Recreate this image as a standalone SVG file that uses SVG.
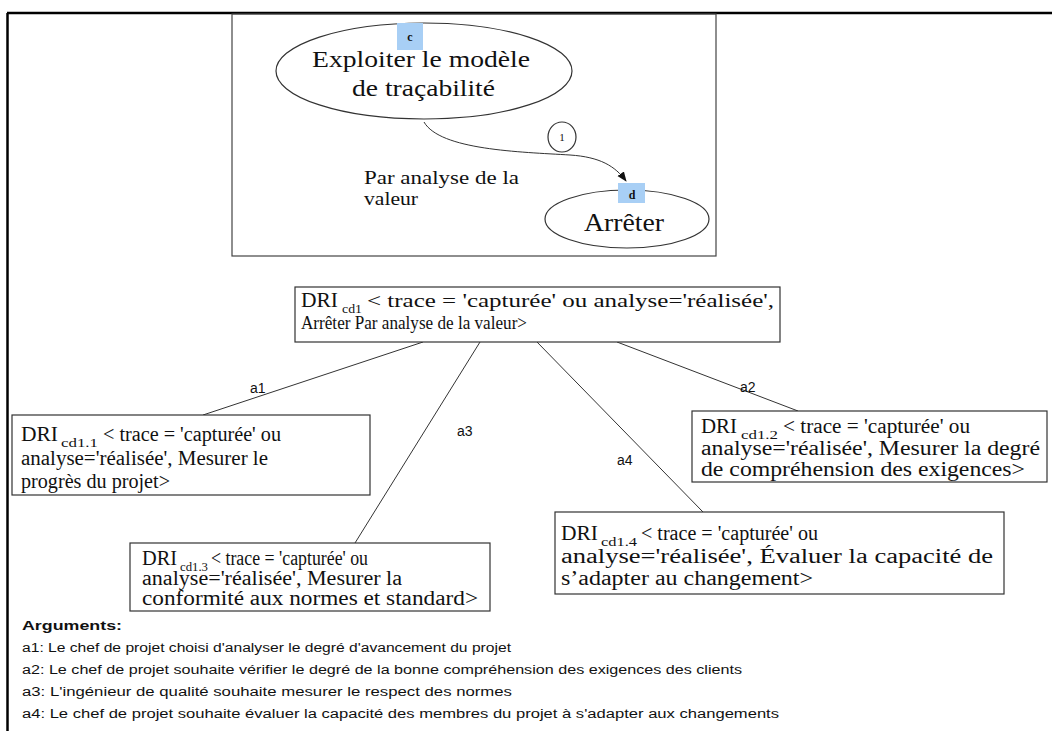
<svg xmlns="http://www.w3.org/2000/svg" width="1052" height="731" viewBox="0 0 1052 731">
<style>
.tm{font-family:"Liberation Serif","Times New Roman",serif;fill:#111}
.ar{font-family:"Liberation Sans",Arial,sans-serif;fill:#111}
.box{fill:#fff;stroke:#333;stroke-width:1.2}
.ell{fill:#fff;stroke:#333;stroke-width:1.2}
.lbl{fill:#a8cff5}
.ln{stroke:#333;stroke-width:1;fill:none}
.sub{font-size:12px}
</style>
<defs>
<marker id="arr" markerWidth="10" markerHeight="10" refX="9" refY="5" orient="auto" markerUnits="userSpaceOnUse">
<path d="M0,1 L10,5 L0,9 Z" fill="#111"/>
</marker>
</defs>
<rect x="0" y="0" width="1052" height="731" fill="#fff"/>
<g id="frame">
<line x1="7" y1="13" x2="1052" y2="13" stroke="#000" stroke-width="2.5"/>
<line x1="7.5" y1="13" x2="7.5" y2="731" stroke="#000" stroke-width="2.5"/>
<rect x="232" y="14" width="484" height="242" fill="none" stroke="#444" stroke-width="1.2"/>
</g>
<g id="connectors">
<path class="ln" d="M424,122 C440,150 520,152 570,155 C600,157 615,166 626,181" marker-end="url(#arr)"/>
<line class="ln" x1="423" y1="342" x2="203" y2="415"/>
<line class="ln" x1="617" y1="342" x2="798" y2="411"/>
<line class="ln" x1="480" y1="342" x2="355" y2="543"/>
<line class="ln" x1="537" y1="342" x2="703" y2="512"/>
<text class="ar" x="250" y="393" font-size="14">a1</text>
<text class="ar" x="740" y="392" font-size="14">a2</text>
<text class="ar" x="457" y="436" font-size="14">a3</text>
<text class="ar" x="617" y="465" font-size="14">a4</text>
</g>
<g id="node-c">
<ellipse class="ell" cx="424" cy="71" rx="148" ry="48"/>
<rect class="lbl" x="397" y="23" width="26" height="27"/>
<text class="tm" x="410" y="41" font-size="12" font-weight="bold" text-anchor="middle">c</text>
<text class="tm" x="312" y="67" font-size="24" textLength="218" lengthAdjust="spacingAndGlyphs">Exploiter le modèle</text>
<text class="tm" x="352" y="96" font-size="24" textLength="143" lengthAdjust="spacingAndGlyphs">de traçabilité</text>
</g>
<g id="edge-label">
<ellipse class="ell" cx="562" cy="137" rx="14" ry="15"/>
<text class="tm" x="562" y="141" font-size="11" text-anchor="middle">1</text>
<text class="tm" x="364" y="184" font-size="19" textLength="155" lengthAdjust="spacingAndGlyphs">Par analyse de la</text>
<text class="tm" x="364" y="205" font-size="19" textLength="54" lengthAdjust="spacingAndGlyphs">valeur</text>
</g>
<g id="node-d">
<ellipse class="ell" cx="627" cy="219" rx="82" ry="29"/>
<rect class="lbl" x="618" y="183" width="27" height="20"/>
<text class="tm" x="632" y="199" font-size="12" font-weight="bold" text-anchor="middle">d</text>
<text class="tm" x="584" y="231" font-size="25" textLength="80" lengthAdjust="spacingAndGlyphs">Arrêter</text>
</g>
<g id="node-cd1">
<rect class="box" x="295" y="287" width="485" height="55"/>
<text class="tm" font-size="20"><tspan x="301" y="307" textLength="37" lengthAdjust="spacingAndGlyphs">DRI</tspan><tspan class="sub" x="342" y="313" textLength="20" lengthAdjust="spacingAndGlyphs">cd1</tspan><tspan x="367" y="307" font-size="19" textLength="407" lengthAdjust="spacingAndGlyphs">&lt; trace = 'capturée'  ou analyse='réalisée',</tspan></text>
<text class="tm" x="301" y="329" font-size="19" textLength="226" lengthAdjust="spacingAndGlyphs">Arrêter Par analyse de la valeur&gt;</text>
</g>
<g id="node-cd1-1">
<rect class="box" x="12" y="415" width="358" height="80"/>
<text class="tm" font-size="20"><tspan x="21" y="441" textLength="37" lengthAdjust="spacingAndGlyphs">DRI</tspan><tspan class="sub" x="61" y="447" textLength="37" lengthAdjust="spacingAndGlyphs">cd1.1</tspan><tspan x="103" y="441" textLength="178" lengthAdjust="spacingAndGlyphs">&lt; trace = 'capturée' ou</tspan></text>
<text class="tm" x="21" y="465" font-size="20" textLength="247" lengthAdjust="spacingAndGlyphs">analyse='réalisée',  Mesurer le</text>
<text class="tm" x="21" y="488" font-size="20" textLength="149" lengthAdjust="spacingAndGlyphs">progrès du projet&gt;</text>
</g>
<g id="node-cd1-2">
<rect class="box" x="692" y="411" width="355" height="71"/>
<text class="tm" font-size="20"><tspan x="701" y="433" textLength="36" lengthAdjust="spacingAndGlyphs">DRI</tspan><tspan class="sub" x="741" y="439" textLength="37" lengthAdjust="spacingAndGlyphs">cd1.2</tspan><tspan x="783" y="433" textLength="187" lengthAdjust="spacingAndGlyphs">&lt; trace = 'capturée' ou</tspan></text>
<text class="tm" x="701" y="455" font-size="20" textLength="339" lengthAdjust="spacingAndGlyphs">analyse='réalisée',  Mesurer la degré</text>
<text class="tm" x="701" y="476" font-size="20" textLength="324" lengthAdjust="spacingAndGlyphs">de compréhension des exigences&gt;</text>
</g>
<g id="node-cd1-3">
<rect class="box" x="130" y="543" width="360" height="68"/>
<text class="tm" font-size="20"><tspan x="142" y="565" textLength="35" lengthAdjust="spacingAndGlyphs">DRI</tspan><tspan class="sub" x="180" y="571" textLength="28" lengthAdjust="spacingAndGlyphs">cd1.3</tspan><tspan x="211" y="565" textLength="157" lengthAdjust="spacingAndGlyphs">&lt; trace = 'capturée' ou</tspan></text>
<text class="tm" x="142" y="585" font-size="20" textLength="260" lengthAdjust="spacingAndGlyphs">analyse='réalisée',  Mesurer la</text>
<text class="tm" x="142" y="605" font-size="20" textLength="336" lengthAdjust="spacingAndGlyphs">conformité aux normes et standard&gt;</text>
</g>
<g id="node-cd1-4">
<rect class="box" x="555" y="512" width="449" height="82"/>
<text class="tm" font-size="20"><tspan x="561" y="540" textLength="37" lengthAdjust="spacingAndGlyphs">DRI</tspan><tspan class="sub" x="601" y="546" textLength="36" lengthAdjust="spacingAndGlyphs">cd1.4</tspan><tspan x="641" y="540" textLength="177" lengthAdjust="spacingAndGlyphs">&lt; trace = 'capturée' ou</tspan></text>
<text class="tm" x="561" y="563" font-size="20" textLength="432" lengthAdjust="spacingAndGlyphs">analyse='réalisée',  Évaluer la capacité de</text>
<text class="tm" x="561" y="585" font-size="20" textLength="252" lengthAdjust="spacingAndGlyphs">s’adapter au changement&gt;</text>
</g>
<g id="arguments">
<text class="ar" x="22" y="630" font-size="13" font-weight="bold" textLength="100" lengthAdjust="spacingAndGlyphs">Arguments:</text>
<text class="ar" x="22" y="652" font-size="12" textLength="489" lengthAdjust="spacingAndGlyphs">a1: Le chef de projet choisi d'analyser le degré d'avancement du projet</text>
<text class="ar" x="22" y="674" font-size="12" textLength="720" lengthAdjust="spacingAndGlyphs">a2: Le chef de projet souhaite vérifier le degré de la bonne compréhension  des exigences des clients</text>
<text class="ar" x="22" y="696" font-size="12" textLength="490" lengthAdjust="spacingAndGlyphs">a3: L'ingénieur de qualité souhaite mesurer le respect des normes</text>
<text class="ar" x="22" y="718" font-size="12" textLength="757" lengthAdjust="spacingAndGlyphs">a4: Le chef de projet souhaite évaluer la capacité des membres du projet à s'adapter aux changements</text>
</g>
</svg>
